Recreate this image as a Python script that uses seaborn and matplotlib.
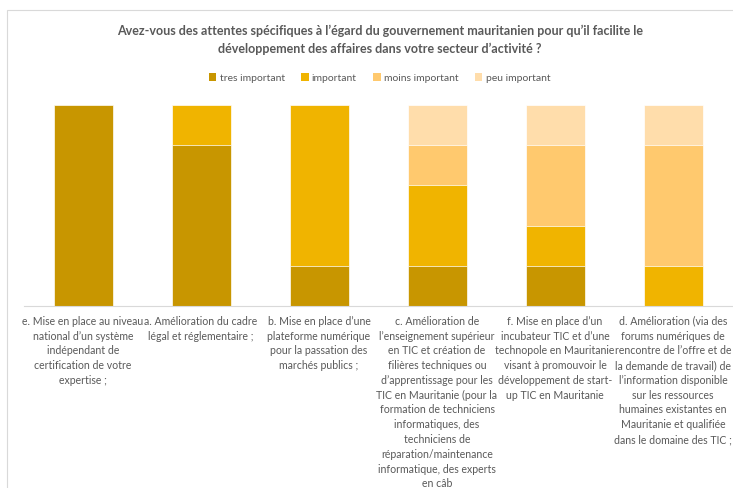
import numpy as np
import pandas as pd
import matplotlib.pyplot as plt
from matplotlib.patches import Rectangle, Patch
import seaborn as sns

sns.set_style("white")
plt.rcParams['font.family'] = ['Lato', 'DejaVu Sans']

categories = ["e", "a", "b", "c", "f", "d"]
tick_labels = [
    "e. Mise en place au niveau\nnational d’un système\nindépendant de\ncertification de votre\nexpertise ;",
    "a. Amélioration du cadre\nlégal et réglementaire ;",
    "b. Mise en place d’une\nplateforme numérique\npour la passation des\nmarchés publics ;",
    "c. Amélioration de\nl’enseignement supérieur\nen TIC et création de\nfilières techniques ou\nd’apprentissage pour les\nTIC en Mauritanie (pour la\nformation de techniciens\ninformatiques, des\ntechniciens de\nréparation/maintenance\ninformatique, des experts\nen câb",
    "f. Mise en place d’un\nincubateur TIC et d’une\ntechnopole en Mauritanie\nvisant à promouvoir le\ndéveloppement de start-\nup TIC en Mauritanie",
    "d. Amélioration (via des\nforums numériques de\nrencontre de l’offre et de\nla demande de travail) de\nl’information disponible\nsur les ressources\nhumaines existantes en\nMauritanie et qualifiée\ndans le domaine des TIC ;",
]
series = ["tres important", "important", "moins important", "peu important"]
tres_important = [5, 4, 1, 1, 1, 0]
important = [0, 1, 4, 2, 1, 1]
moins_important = [0, 0, 0, 1, 2, 3]
peu_important = [0, 0, 0, 1, 1, 1]
colors = ["#C89600", "#F0B400", "#FFC96E", "#FFDDAB"]

df = pd.DataFrame({
    "cat": categories,
    "tres important": tres_important,
    "important": important,
    "moins important": moins_important,
    "peu important": peu_important,
})
pct = df[series].div(df[series].sum(axis=1), axis=0) * 100
cum = pct.cumsum(axis=1)

fig = plt.figure(figsize=(7.33, 4.88), dpi=100)
ax = fig.add_axes([24 / 733, 1 - 306 / 488, 708 / 733, 201 / 488])

# draw from the top layer down so lower layers cover the upper ones
for s, c in reversed(list(zip(series, colors))):
    sns.barplot(x=df["cat"], y=cum[s], color=c, width=0.5, ax=ax,
                edgecolor="white", linewidth=0.5, saturation=1)

ax.set_ylim(0, 100)
ax.set_xlim(-0.5, 5.5)
ax.set_xlabel("")
ax.set_ylabel("")
ax.set_yticks([])
for sp in ["top", "right", "left"]:
    ax.spines[sp].set_visible(False)
ax.spines["bottom"].set_color("#D9D9D9")
ax.spines["bottom"].set_linewidth(0.8)
ax.set_xticks(range(len(categories)))
ax.set_xticklabels(tick_labels, fontsize=7.6, color="#595959",
                   linespacing=1.42, va="top", multialignment="center")
ax.tick_params(axis="x", length=0, pad=7)

fig.text(0.518, 1 - 40 / 488, "Avez-vous des attentes spécifiques à l’égard du gouvernement mauritanien pour qu’il facilite le\ndéveloppement des affaires dans votre secteur d’activité ?",
         ha="center", va="center", fontsize=9.0, fontweight="bold", color="#595959",
         linespacing=1.55)

handles = [Patch(facecolor=c, edgecolor="none") for c in colors]
fig.legend(handles, series, loc="center", bbox_to_anchor=(0.518, 1 - 78 / 488),
           ncol=4, frameon=False, fontsize=7.5, handlelength=0.7, handleheight=0.7,
           handletextpad=0.3, columnspacing=1.6, labelcolor="#595959")

fig.patches.append(Rectangle((7 / 733, -0.1), 1.2, 1.1 - 10 / 488, transform=fig.transFigure,
                             fill=False, edgecolor="#D9D9D9", linewidth=0.8))

fig.savefig("out.png", dpi=100)
